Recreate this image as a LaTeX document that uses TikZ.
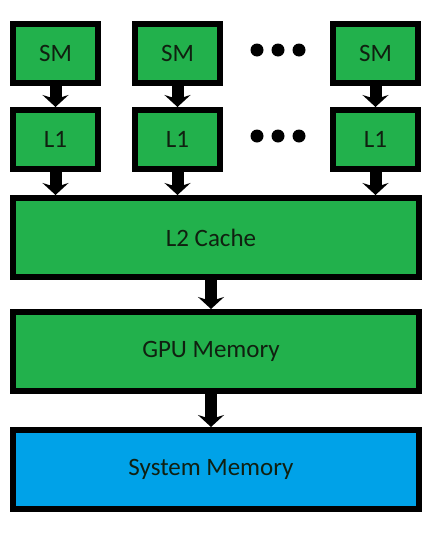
\documentclass[tikz,border=0pt]{standalone}
\usepackage{fontspec}
\setmainfont{Carlito}
\usetikzlibrary{arrows.meta}
\definecolor{boxgreen}{HTML}{22B14C}
\definecolor{boxblue}{HTML}{00A2E8}
\definecolor{txt}{HTML}{102010}
\begin{document}
\begin{tikzpicture}[x=1pt,y=-1pt,
  unit/.style={draw=black, line width=6pt, fill=boxgreen, inner sep=0pt,
    font=\fontsize{25}{28}\selectfont, text=txt},
  small/.style={unit, minimum width=85pt, minimum height=59pt},
  wide/.style={unit, minimum width=406pt, minimum height=79pt},
  arr/.style={draw=black, line width=12pt,
    -{Stealth[length=12pt, width=26pt, inset=4pt]}},
  dot/.style={fill=black}]
\useasboundingbox (0,0) rectangle (429,552);
\node[small] (sm1) at (55.5,53.5) {SM};
\node[small] (sm2) at (177.5,53.5) {SM};
\node[small] (sm3) at (375.5,53.5) {SM};
\node[small] (l1a) at (55.5,139.5) {L1};
\node[small] (l1b) at (177.5,139.5) {L1};
\node[small] (l1c) at (375.5,139.5) {L1};
\node[wide] (l2) at (216,237.5) {\hspace*{-10pt}L2 Cache};
\node[wide] (gpu) at (216,351.5) {\hspace*{-10pt}GPU Memory};
\node[wide, fill=boxblue] (sys) at (216,469.5) {\hspace*{-10pt}System Memory};
\foreach \x in {257,278,299} {
  \fill[dot] (\x,50) circle (6.5);
  \fill[dot] (\x,136) circle (6.5);
}
\draw[arr] (sm1.south) -- (l1a.north);
\draw[arr] (sm2.south) -- (l1b.north);
\draw[arr] (sm3.south) -- (l1c.north);
\draw[arr] (l1a.south) -- (l1a.south |- l2.north);
\draw[arr] (l1b.south) -- (l1b.south |- l2.north);
\draw[arr] (l1c.south) -- (l1c.south |- l2.north);
\draw[arr] ([xshift=-5pt]l2.south) -- ([xshift=-5pt]gpu.north);
\draw[arr] ([xshift=-5pt]gpu.south) -- ([xshift=-5pt]sys.north);
\end{tikzpicture}
\end{document}
